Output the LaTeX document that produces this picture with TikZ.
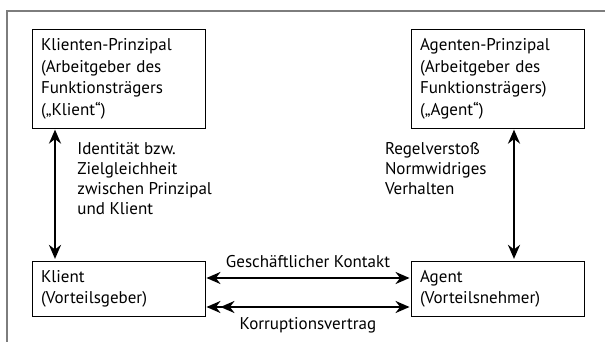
\documentclass[tikz,border=0pt]{standalone}
\usepackage{fontspec}
\setmainfont{PT Sans}
\usetikzlibrary{positioning}
\usetikzlibrary{arrows.meta}
\definecolor{mygray}{RGB}{125,125,125}

\begin{document}
\begin{tikzpicture}[x=1pt,y=1pt,node distance=210pt and 379pt,on grid,thick]
    % Rahmen und Boxen
    \tikzstyle{partei}=[draw,line width=0.9pt,text width=155pt,inner sep=9pt,align=left,font=\fontsize{17}{21.5}\selectfont]
    \tikzstyle{beschr}=[align=left,inner sep=0pt,font=\fontsize{17}{20}\selectfont]
    \tikzstyle{pfeil}=[line width=2.8pt,{Stealth[length=14pt,width=12pt]}-{Stealth[length=14pt,width=12pt]}]
    \useasboundingbox (0,0) rectangle (605,-342);
    \draw[mygray,line width=1.5pt] (605,-11) -- (7,-11) -- (7,-342);

    \node[partei,minimum height=94pt] (kp) at (118.5,-79) {Klienten-Prinzipal\\(Arbeitgeber des\\Funktionsträgers\\(„Klient“)};
    \node[partei,minimum height=94pt] (ap) [right=of kp] {Agenten-Prinzipal\\(Arbeitgeber des\\Funktionsträgers)\\(„Agent“)};
    \node[partei,minimum height=54pt] (k) [below=of kp] {Klient\\(Vorteilsgeber)};
    \node[partei,minimum height=54pt] (a) [below=of ap] {Agent\\(Vorteilsnehmer)};

    \draw[pfeil] ([xshift=-63.5pt,yshift=-1pt]kp.south) -- ([xshift=-63.5pt,yshift=2pt]k.north)
        node (ziel) [beschr,pos=0.4,anchor=west,xshift=21pt,yshift=3pt] {Identität bzw.\\Zielgleichheit\\zwischen Prinzipal\\und Klient};
    \draw[pfeil] ([xshift=16.5pt,yshift=-1pt]ap.south) -- ([xshift=16.5pt,yshift=2pt]a.north)
        node (regel) [beschr,pos=0.32,anchor=east,xshift=-26pt,yshift=2pt] {Regelverstoß\\Normwidriges\\Verhalten};
    \draw[pfeil] ([yshift=11pt,xshift=1pt]k.east) -- ([yshift=11pt,xshift=-1pt]a.west)
        node (kontakt) [beschr,midway,above=9pt] {Geschäftlicher Kontakt};
    \draw[line width=2.8pt,{Stealth[length=14pt,width=12pt]Stealth[length=14pt,width=12pt]}-{Stealth[length=14pt,width=12pt]}] ([yshift=-18pt,xshift=1pt]k.east) -- ([yshift=-18pt,xshift=-1pt]a.west)
        node (vertrag) [beschr,midway,below=9pt] {Korruptionsvertrag};
\end{tikzpicture}
\end{document}
